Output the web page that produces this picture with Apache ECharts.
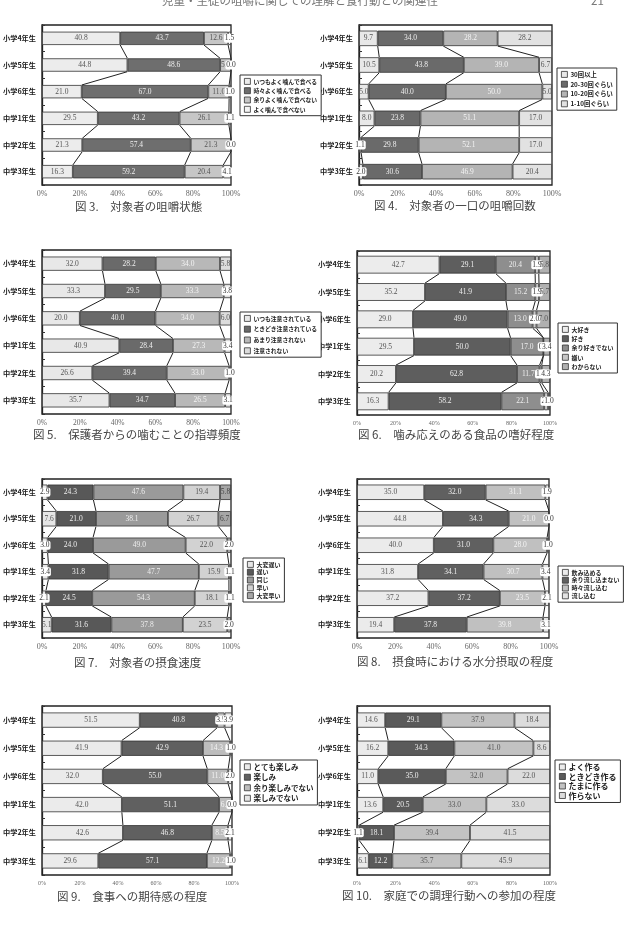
<!DOCTYPE html>
<html><head><meta charset="utf-8">
<script src="https://cdn.jsdelivr.net/npm/echarts@6/dist/echarts.min.js"></script>
<style>html,body{margin:0;padding:0;background:#fff}#c{width:629px;height:926px}</style>
</head><body><div id="c"></div>
<script>
// ---- categories ----
const categories = ['小学4年生','小学5年生','小学6年生','中学1年生','中学2年生','中学3年生'];
const xTickLabels = ['0%','20%','40%','60%','80%','100%'];

// ---- Fig 3 ----
const fig3Legend = ['いつもよく噛んで食べる','時々よく噛んで食べる','余りよく噛んで食べない','よく噛んで食べない'];
const fig3Always    = [40.8,44.8,21.0,29.5,21.3,16.3];
const fig3Sometimes = [43.7,48.6,67.0,43.2,57.4,59.2];
const fig3Seldom    = [12.6,5.7,11.0,26.1,21.3,20.4];
const fig3Never     = [1.5,0.0,1.0,1.1,0.0,4.1];

// ---- Fig 4 ----
const fig4Legend = ['30回以上','20-30回ぐらい','10-20回ぐらい','1-10回ぐらい'];
const fig4Over30  = [9.7,10.5,5.0,8.0,1.1,2.0];
const fig4From20  = [34.0,43.8,40.0,23.8,29.8,30.6];
const fig4From10  = [28.2,39.0,50.0,51.1,52.1,46.9];
const fig4From1   = [28.2,6.7,5.0,17.0,17.0,20.4];

// ---- Fig 5 ----
const fig5Legend = ['いつも注意されている','ときどき注意されている','あまり注意されない','注意されない'];
const fig5Always    = [32.0,33.3,20.0,40.9,26.6,35.7];
const fig5Sometimes = [28.2,29.5,40.0,28.4,39.4,34.7];
const fig5Seldom    = [34.0,33.3,34.0,27.3,33.0,26.5];
const fig5Never     = [5.8,3.8,6.0,3.4,1.0,3.1];

// ---- Fig 6 ----
const fig6Legend = ['大好き','好き','余り好きでない','嫌い','わからない'];
const fig6Love    = [42.7,35.2,29.0,29.5,20.2,16.3];
const fig6Like    = [29.1,41.9,49.0,50.0,62.8,58.2];
const fig6NotMuch = [20.4,15.2,13.0,17.0,11.7,22.1];
const fig6Dislike = [1.9,1.9,2.0,0.0,1.1,2.0];
const fig6Unknown = [5.8,5.7,7.0,3.4,4.3,1.0];

// ---- Fig 7 ----
const fig7Legend = ['大変遅い','遅い','同じ','早い','大変早い'];
const fig7VerySlow = [2.9,7.6,3.0,3.4,2.1,5.1];
const fig7Slow     = [24.3,21.0,24.0,31.8,24.5,31.6];
const fig7Same     = [47.6,38.1,49.0,47.7,54.3,37.8];
const fig7Fast     = [19.4,26.7,22.0,15.9,18.1,23.5];
const fig7VeryFast = [5.8,6.7,2.0,1.1,1.1,2.0];

// ---- Fig 8 ----
const fig8Legend = ['飲み込める','余り流し込まない','時々流し込む','流し込む'];
const fig8Swallow   = [35.0,44.8,40.0,31.8,37.2,19.4];
const fig8Rarely    = [32.0,34.3,31.0,34.1,37.2,37.8];
const fig8Sometimes = [31.1,21.0,28.0,30.7,23.5,39.8];
const fig8Wash      = [1.9,0.0,1.0,3.4,2.1,3.1];

// ---- Fig 9 ----
const fig9Legend = ['とても楽しみ','楽しみ','余り楽しみでない','楽しみでない'];
const fig9VeryMuch = [51.5,41.9,32.0,42.0,42.6,29.6];
const fig9Look     = [40.8,42.9,55.0,51.1,46.8,57.1];
const fig9NotMuch  = [3.9,14.3,11.0,6.8,8.5,12.2];
const fig9Not      = [3.9,1.0,2.0,0.0,2.1,1.0];

// ---- Fig 10 ----
const fig10Legend = ['よく作る','ときどき作る','たまに作る','作らない'];
const fig10Often     = [14.6,16.2,11.0,13.6,1.1,6.1];
const fig10Sometimes = [29.1,34.3,35.0,20.5,18.1,12.2];
const fig10Rarely    = [37.9,41.0,32.0,33.0,39.4,35.7];
const fig10Never     = [18.4,8.6,22.0,33.0,41.5,45.9];

// ---- layout / style ----
const figs = [
  {names:fig3Legend, vals:[fig3Always,fig3Sometimes,fig3Seldom,fig3Never],
   colors:['#ececec','#6e6e6e','#c6c6c6','#f4f4f4'], lc:['#555','#eee','#555','#555'],
   grid:[40,25,191,160], ratio:0.5, xfs:8,
   legend:{left:240,top:75,fs:5.8,gap:2.5}, title:'図 3.　対象者の咀嚼状態', tpos:[75,209]},
  {names:fig4Legend, vals:[fig4Over30,fig4From20,fig4From10,fig4From1],
   colors:['#e8e8e8','#6a6a6a','#b4b4b4','#e2e2e2'], lc:['#555','#eee','#f4f4f4','#555'],
   grid:[359,25,193,160], ratio:0.58, xfs:8,
   legend:{left:557,top:68,fs:6.3,gap:3}, title:'図 4.　対象者の一口の咀嚼回数', tpos:[374,208]},
  {names:fig5Legend, vals:[fig5Always,fig5Sometimes,fig5Seldom,fig5Never],
   colors:['#e8e8e8','#6a6a6a','#b8b8b8','#dcdcdc'], lc:['#555','#eee','#f4f4f4','#555'],
   grid:[40,250,191,164], ratio:0.52, xfs:7.5,
   legend:{left:240,top:312,fs:5.8,gap:4}, title:'図 5.　保護者からの噛むことの指導頻度', tpos:[33,437]},
  {names:fig6Legend, vals:[fig6Love,fig6Like,fig6NotMuch,fig6Dislike,fig6Unknown],
   colors:['#ececec','#5e5e5e','#8e8e8e','#c8c8c8','#b0b0b0'], lc:['#555','#eee','#eee','#eee','#555'],
   grid:[357,251,193,164], ratio:0.65, xfs:6,
   legend:{left:558,top:323,fs:6,gap:2.5}, title:'図 6.　噛み応えのある食品の嗜好程度', tpos:[358,437]},
  {names:fig7Legend, vals:[fig7VerySlow,fig7Slow,fig7Same,fig7Fast,fig7VeryFast],
   colors:['#e6e6e6','#585858','#9a9a9a','#d2d2d2','#a6a6a6'], lc:['#555','#eee','#eee','#555','#444'],
   grid:[40,479,191,159], ratio:0.58, xfs:8,
   legend:{left:243,top:558,fs:6,gap:1}, title:'図 7.　対象者の摂食速度', tpos:[74,665]},
  {names:fig8Legend, vals:[fig8Swallow,fig8Rarely,fig8Sometimes,fig8Wash],
   colors:['#ebebeb','#606060','#c0c0c0','#e2e2e2'], lc:['#555','#eee','#f4f4f4','#555'],
   grid:[357,479,192,159], ratio:0.58, xfs:8,
   legend:{left:558,top:566,fs:6,gap:1}, title:'図 8.　摂食時における水分摂取の程度', tpos:[357,664]},
  {names:fig9Legend, vals:[fig9VeryMuch,fig9Look,fig9NotMuch,fig9Not],
   colors:['#ebebeb','#606060','#bdbdbd','#e6e6e6'], lc:['#555','#eee','#f4f4f4','#555'],
   grid:[40,706,192,169], ratio:0.54, xfs:6,
   legend:{left:240,top:760,fs:7.5,gap:3}, title:'図 9.　食事への期待感の程度', tpos:[57,899]},
  {names:fig10Legend, vals:[fig10Often,fig10Sometimes,fig10Rarely,fig10Never],
   colors:['#ebebeb','#5a5a5a','#c2c2c2','#dcdcdc'], lc:['#555','#eee','#555','#555'],
   grid:[357,706,193,169], ratio:0.54, xfs:6,
   legend:{left:555,top:760,fs:8,gap:1.5}, title:'図 10.　家庭での調理行動への参加の程度', tpos:[342,898]}
];

const grid=[], xAxis=[], yAxis=[], series=[], legend=[], graphic=[];
graphic.push({type:'text', left:162, top:-5, style:{text:'児童・生徒の咀嚼に関しての理解と食行動との関連性', fontSize:11.5, fill:'#777', fontFamily:'Noto Sans CJK JP'}});
graphic.push({type:'text', left:591, top:-5, style:{text:'21', fontSize:11.5, fill:'#777', fontFamily:'Noto Sans CJK JP'}});

figs.forEach((f,k)=>{
  const n = f.vals.length;
  const sums = categories.map((c,i)=>f.vals.reduce((a,s)=>a+s[i],0));
  const norm = f.vals.map(s=>s.map((v,i)=>v/sums[i]*100));
  const cum = [];
  let run = categories.map(()=>0);
  norm.forEach(s=>{ run = run.map((r,i)=>r+s[i]); cum.push(run.slice()); });

  grid.push({left:f.grid[0], top:f.grid[1], width:f.grid[2], height:f.grid[3], show:true,
    borderColor:'#222', borderWidth:1.3, backgroundColor:'#fff'});
  xAxis.push({gridIndex:k, type:'value', min:0, max:100, interval:20,
    axisLabel:{formatter:(v)=>xTickLabels[Math.round(v/20)], fontFamily:'Liberation Serif', fontSize:f.xfs, color:'#666', margin:5},
    splitLine:{show:false}, axisLine:{show:false}, axisTick:{show:false}});
  yAxis.push({gridIndex:k, type:'category', inverse:true, data:categories,
    axisLabel:{fontFamily:'Noto Sans CJK JP', fontWeight:'bold', fontSize:7.2, color:'#222', margin:6},
    axisTick:{show:true, inside:true, length:3, lineStyle:{color:'#333'}},
    axisLine:{show:true, lineStyle:{color:'#222', width:1.3}}});

  f.vals.forEach((s,j)=>{
    series.push({type:'bar', name:f.names[j], xAxisIndex:k, yAxisIndex:k, stack:'st'+k,
      barWidth:(f.ratio*100)+'%',
      itemStyle:{color:f.colors[j], borderColor:'#333', borderWidth:0.8},
      label:{show:true, position:'inside', fontFamily:'Liberation Serif', fontSize:7.5, color:f.lc[j],
        formatter:(p)=>p.data.raw.toFixed(1)},
      data:s.map((v,i)=>{
        const item = {value:norm[j][i], raw:v};
        if (v < 4.5) item.label = {backgroundColor:'#fff', color:'#333', padding:[1,1,0,1], borderRadius:2};
        return item;
      })
    });
  });

  // series lines between adjacent bars
  series.push({type:'custom', xAxisIndex:k, yAxisIndex:k, silent:true, z:3,
    data:[0,1,2,3,4].map(i=>[0,i]), encode:{x:0,y:1},
    renderItem:(params, api)=>{
      const i = api.value(1);
      const band = api.size([0,1])[1];
      const h = band*f.ratio/2;
      const children=[];
      for (let b=0;b<n-1;b++){
        const p1 = api.coord([cum[b][i], i]);
        const p2 = api.coord([cum[b][i+1], i+1]);
        children.push({type:'line', shape:{x1:p1[0], y1:p1[1]+h, x2:p2[0], y2:p2[1]-h},
          style:{stroke:'#222', lineWidth:1}});
      }
      return {type:'group', children};
    }
  });

  legend.push({orient:'vertical', left:f.legend.left, top:f.legend.top, data:f.names,
    borderColor:'#333', borderWidth:1, padding:[3,4,3,4], itemWidth:6, itemHeight:6,
    itemGap:f.legend.gap, icon:'rect', selectedMode:false, backgroundColor:'#fff',
    itemStyle:{borderColor:'#333', borderWidth:0.8},
    textStyle:{fontSize:f.legend.fs, fontWeight:'bold', fontFamily:'Noto Sans CJK JP', color:'#222', padding:[0,0,0,-2]}});

  graphic.push({type:'text', left:f.tpos[0], top:f.tpos[1]-8, style:{text:f.title, fontSize:11.5, fill:'#444', fontFamily:'Noto Sans CJK JP'}});
});

const chart = echarts.init(document.getElementById('c'), null, {renderer:'canvas'});
chart.setOption({animation:false, backgroundColor:'#fff', grid, xAxis, yAxis, series, legend, graphic});
</script></body></html>
